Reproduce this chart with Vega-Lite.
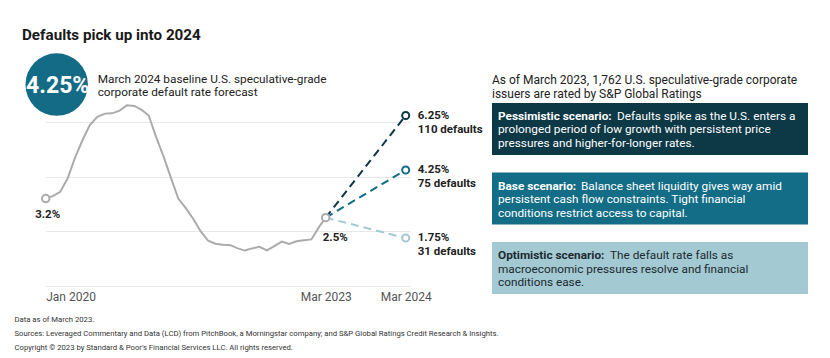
{
  "$schema": "https://vega.github.io/schema/vega-lite/v6.json",
  "background": "white",
  "padding": {"left": 14, "top": 28, "right": 0, "bottom": 0},
  "config": {
    "view": {"stroke": null},
    "font": "Roboto",
    "concat": {"spacing": 82}
  },
  "title": {
    "text": "Defaults pick up into 2024",
    "anchor": "start",
    "fontSize": 15.2,
    "fontWeight": "bold",
    "color": "#1a1a1a",
    "dx": 8,
    "offset": 10
  },
  "datasets": {
    "history": [
      {"date": "2020-01-01T00:00:00", "rate": 3.2},
      {"date": "2020-02-01T00:00:00", "rate": 3.3},
      {"date": "2020-03-01T00:00:00", "rate": 3.45},
      {"date": "2020-04-01T00:00:00", "rate": 3.95},
      {"date": "2020-05-01T00:00:00", "rate": 4.7},
      {"date": "2020-06-01T00:00:00", "rate": 5.35},
      {"date": "2020-07-01T00:00:00", "rate": 5.9},
      {"date": "2020-08-01T00:00:00", "rate": 6.2},
      {"date": "2020-09-01T00:00:00", "rate": 6.32},
      {"date": "2020-10-01T00:00:00", "rate": 6.33},
      {"date": "2020-11-01T00:00:00", "rate": 6.43},
      {"date": "2020-12-01T00:00:00", "rate": 6.63},
      {"date": "2021-01-01T00:00:00", "rate": 6.6},
      {"date": "2021-02-01T00:00:00", "rate": 6.45},
      {"date": "2021-03-01T00:00:00", "rate": 6.25},
      {"date": "2021-04-01T00:00:00", "rate": 5.45},
      {"date": "2021-05-01T00:00:00", "rate": 4.75},
      {"date": "2021-06-01T00:00:00", "rate": 3.95},
      {"date": "2021-07-01T00:00:00", "rate": 3.2},
      {"date": "2021-08-01T00:00:00", "rate": 2.85},
      {"date": "2021-09-01T00:00:00", "rate": 2.45},
      {"date": "2021-10-01T00:00:00", "rate": 2.0},
      {"date": "2021-11-01T00:00:00", "rate": 1.65},
      {"date": "2021-12-01T00:00:00", "rate": 1.54},
      {"date": "2022-01-01T00:00:00", "rate": 1.5},
      {"date": "2022-02-01T00:00:00", "rate": 1.49},
      {"date": "2022-03-01T00:00:00", "rate": 1.38},
      {"date": "2022-04-01T00:00:00", "rate": 1.29},
      {"date": "2022-05-01T00:00:00", "rate": 1.37},
      {"date": "2022-06-01T00:00:00", "rate": 1.43},
      {"date": "2022-07-01T00:00:00", "rate": 1.3},
      {"date": "2022-08-01T00:00:00", "rate": 1.45},
      {"date": "2022-09-01T00:00:00", "rate": 1.62},
      {"date": "2022-10-01T00:00:00", "rate": 1.53},
      {"date": "2022-11-01T00:00:00", "rate": 1.63},
      {"date": "2022-12-01T00:00:00", "rate": 1.67},
      {"date": "2023-01-01T00:00:00", "rate": 1.7},
      {"date": "2023-02-01T00:00:00", "rate": 2.15},
      {"date": "2023-03-01T00:00:00", "rate": 2.5}
    ],
    "endpoints": [
      {"date": "2020-01-01T00:00:00", "rate": 3.2, "label": "3.2%"},
      {"date": "2023-03-01T00:00:00", "rate": 2.5, "label": "2.5%"}
    ],
    "scenarios": [
      {"scenario": "Pessimistic", "date": "2023-03-01T00:00:00", "rate": 2.5, "point": "start"},
      {"scenario": "Pessimistic", "date": "2024-03-01T00:00:00", "rate": 6.25, "point": "end", "label": "6.25%", "count": "110 defaults"},
      {"scenario": "Base", "date": "2023-03-01T00:00:00", "rate": 2.5, "point": "start"},
      {"scenario": "Base", "date": "2024-03-01T00:00:00", "rate": 4.25, "point": "end", "label": "4.25%", "count": "75 defaults"},
      {"scenario": "Optimistic", "date": "2023-03-01T00:00:00", "rate": 2.5, "point": "start"},
      {"scenario": "Optimistic", "date": "2024-03-01T00:00:00", "rate": 1.75, "point": "end", "label": "1.75%", "count": "31 defaults"}
    ],
    "boxes": [
      {"scenario": "Pessimistic", "label": "Pessimistic scenario:", "line1": "Defaults spike as the U.S. enters a", "line2": "prolonged period of low growth with persistent price", "line3": "pressures and higher-for-longer rates."},
      {"scenario": "Base", "label": "Base scenario:", "line1": "Balance sheet liquidity gives way amid", "line2": "persistent cash flow constraints. Tight financial", "line3": "conditions restrict access to capital."},
      {"scenario": "Optimistic", "label": "Optimistic scenario:", "line1": "The default rate falls as", "line2": "macroeconomic pressures resolve and financial", "line3": "conditions ease."}
    ]
  },
  "bounds": "flush",
  "hconcat": [
    {
      "width": 368,
      "height": 182.7,
      "encoding": {
        "x": {
          "field": "date", "type": "temporal",
          "scale": {
            "domain": {"expr": "[datetime(2020,0,1), datetime(2023,2,1), datetime(2024,2,1), datetime(2024,2,21)]"},
            "range": [3.7, 283.7, 363.7, 368]
          },
          "axis": {
            "values": [{"year": 2020, "month": 1, "date": 1}, {"year": 2023, "month": 3, "date": 1}, {"year": 2024, "month": 3, "date": 1}],
            "format": "%b %Y",
            "labelColor": "#555555",
            "labelFontSize": 12,
            "labelPadding": 6,
            "ticks": false,
            "domain": false,
            "grid": false,
            "title": ["Data as of March 2023.", "Sources: Leveraged Commentary and Data (LCD) from PitchBook, a Morningstar company; and S&P Global Ratings Credit Research & Insights.", "Copyright © 2023 by Standard & Poor's Financial Services LLC. All rights reserved."],
            "titleFontSize": 7.7,
            "titleFontWeight": "normal",
            "titleColor": "#333333",
            "titleAnchor": "start",
            "titleAlign": "left",
            "titleBaseline": "top",
            "titleLineHeight": 14,
            "titleX": -28,
            "titlePadding": 13
          }
        },
        "y": {
          "field": "rate", "type": "quantitative",
          "scale": {"domain": [0, 6.71], "nice": false},
          "axis": {
            "values": [0, 2, 4, 6],
            "grid": true,
            "gridColor": "#e8e8e8",
            "labels": false,
            "ticks": false,
            "domain": false,
            "title": null
          }
        }
      },
      "layer": [
        {
          "data": {"name": "history"},
          "mark": {"type": "line", "color": "#ababab", "strokeWidth": 2}
        },
        {
          "data": {"name": "scenarios"},
          "mark": {"type": "line", "strokeWidth": 2, "strokeDash": [8, 5]},
          "encoding": {
            "color": {
              "field": "scenario", "type": "nominal",
              "scale": {"domain": ["Pessimistic", "Base", "Optimistic"], "range": ["#0d3845", "#136d86", "#a3c9d3"]},
              "legend": null
            }
          }
        },
        {
          "data": {"name": "endpoints"},
          "mark": {"type": "point", "filled": true, "fill": "white", "stroke": "#ababab", "strokeWidth": 2, "size": 55, "opacity": 1}
        },
        {
          "data": {"name": "scenarios"},
          "transform": [{"filter": "datum.point === 'end'"}],
          "mark": {"type": "point", "filled": false, "fill": "white", "fillOpacity": 1, "strokeWidth": 2, "size": 50, "opacity": 1},
          "encoding": {
            "stroke": {
              "field": "scenario", "type": "nominal",
              "scale": {"domain": ["Pessimistic", "Base", "Optimistic"], "range": ["#0d3845", "#136d86", "#a3c9d3"]},
              "legend": null
            }
          }
        },
        {
          "data": {"name": "endpoints"},
          "transform": [{"filter": "datum.label === '3.2%'"}],
          "mark": {"type": "text", "fontWeight": "bold", "fontSize": 11.5, "color": "#222222", "dy": 16, "dx": 2},
          "encoding": {"text": {"field": "label"}}
        },
        {
          "data": {"name": "endpoints"},
          "transform": [{"filter": "datum.label === '2.5%'"}],
          "mark": {"type": "text", "fontWeight": "bold", "fontSize": 11.5, "color": "#222222", "dy": 20, "dx": -3, "align": "left"},
          "encoding": {"text": {"field": "label"}}
        },
        {
          "data": {"name": "scenarios"},
          "transform": [{"filter": "datum.point === 'end'"}],
          "mark": {"type": "text", "fontWeight": "bold", "fontSize": 11.5, "color": "#222222", "dx": 12, "align": "left", "baseline": "middle"},
          "encoding": {"text": {"field": "label"}}
        },
        {
          "data": {"name": "scenarios"},
          "transform": [{"filter": "datum.point === 'end'"}],
          "mark": {"type": "text", "fontWeight": "bold", "fontSize": 11.5, "color": "#222222", "dx": 12, "dy": 14, "align": "left", "baseline": "middle"},
          "encoding": {"text": {"field": "count"}}
        },
        {
          "data": {"name": "endpoints"},
          "transform": [{"filter": "datum.label === '3.2%'"}],
          "mark": {"type": "point", "filled": true, "color": "#136b85", "size": 3900, "opacity": 1},
          "encoding": {
            "xOffset": {"value": 11},
            "yOffset": {"value": -114}
          }
        },
        {
          "data": {"name": "endpoints"},
          "transform": [{"filter": "datum.label === '3.2%'"}],
          "mark": {"type": "text", "color": "white", "fontSize": 23, "fontWeight": "bold", "baseline": "middle", "dx": 12, "dy": -113},
          "encoding": {
            "text": {"value": "4.25%"}
          }
        },
        {
          "data": {"name": "endpoints"},
          "transform": [{"filter": "datum.label === '3.2%'"}],
          "mark": {"type": "text", "color": "#222222", "fontSize": 11.8, "align": "left", "baseline": "middle", "dx": 52, "dy": -120},
          "encoding": {
            "text": {"value": "March 2024 baseline U.S. speculative-grade"}
          }
        },
        {
          "data": {"name": "endpoints"},
          "transform": [{"filter": "datum.label === '3.2%'"}],
          "mark": {"type": "text", "color": "#222222", "fontSize": 11.8, "align": "left", "baseline": "middle", "dx": 52, "dy": -107},
          "encoding": {
            "text": {"value": "corporate default rate forecast"}
          }
        }
      ]
    },
    {
      "width": 316,
      "height": 191,
      "title": {
        "text": ["As of March 2023, 1,762 U.S. speculative-grade corporate", "issuers are rated by S&P Global Ratings"],
        "anchor": "start",
        "fontSize": 12,
        "fontWeight": "normal",
        "color": "#222222",
        "lineHeight": 14,
        "offset": 2
      },
      "data": {"name": "boxes"},
      "encoding": {
        "y": {
          "field": "scenario", "type": "nominal",
          "scale": {"domain": ["Pessimistic", "Base", "Optimistic"], "paddingInner": 0.252, "paddingOuter": 0},
          "axis": null
        }
      },
      "layer": [
        {
          "mark": {"type": "rect"},
          "encoding": {
            "color": {
              "field": "scenario", "type": "nominal",
              "scale": {"domain": ["Pessimistic", "Base", "Optimistic"], "range": ["#0d3845", "#0b6a82", "#94c0cc"]},
              "legend": null
            }
          }
        },
        {
          "mark": {"type": "text", "fontWeight": "bold", "fontSize": 11.8, "align": "left", "baseline": "middle", "dy": -13},
          "encoding": {
            "x": {"value": 6},
            "text": {"field": "label"},
            "color": {"condition": {"test": "datum.scenario === 'Optimistic'", "value": "#1c2a30"}, "value": "white"}
          }
        },
        {
          "transform": [{"filter": "datum.scenario === 'Pessimistic'"}],
          "mark": {"type": "text", "fontSize": 11.8, "align": "left", "baseline": "middle", "dy": -13, "dx": 119},
          "encoding": {"x": {"value": 6}, "text": {"field": "line1"}, "color": {"value": "white"}}
        },
        {
          "transform": [{"filter": "datum.scenario === 'Base'"}],
          "mark": {"type": "text", "fontSize": 11.8, "align": "left", "baseline": "middle", "dy": -13, "dx": 83},
          "encoding": {"x": {"value": 6}, "text": {"field": "line1"}, "color": {"value": "white"}}
        },
        {
          "transform": [{"filter": "datum.scenario === 'Optimistic'"}],
          "mark": {"type": "text", "fontSize": 11.8, "align": "left", "baseline": "middle", "dy": -13, "dx": 112},
          "encoding": {"x": {"value": 6}, "text": {"field": "line1"}, "color": {"value": "#1c2a30"}}
        },
        {
          "mark": {"type": "text", "fontSize": 11.8, "align": "left", "baseline": "middle", "dy": 0.5},
          "encoding": {
            "x": {"value": 6},
            "text": {"field": "line2"},
            "color": {"condition": {"test": "datum.scenario === 'Optimistic'", "value": "#1c2a30"}, "value": "white"}
          }
        },
        {
          "mark": {"type": "text", "fontSize": 11.8, "align": "left", "baseline": "middle", "dy": 14},
          "encoding": {
            "x": {"value": 6},
            "text": {"field": "line3"},
            "color": {"condition": {"test": "datum.scenario === 'Optimistic'", "value": "#1c2a30"}, "value": "white"}
          }
        }
      ]
    }
  ]
}
